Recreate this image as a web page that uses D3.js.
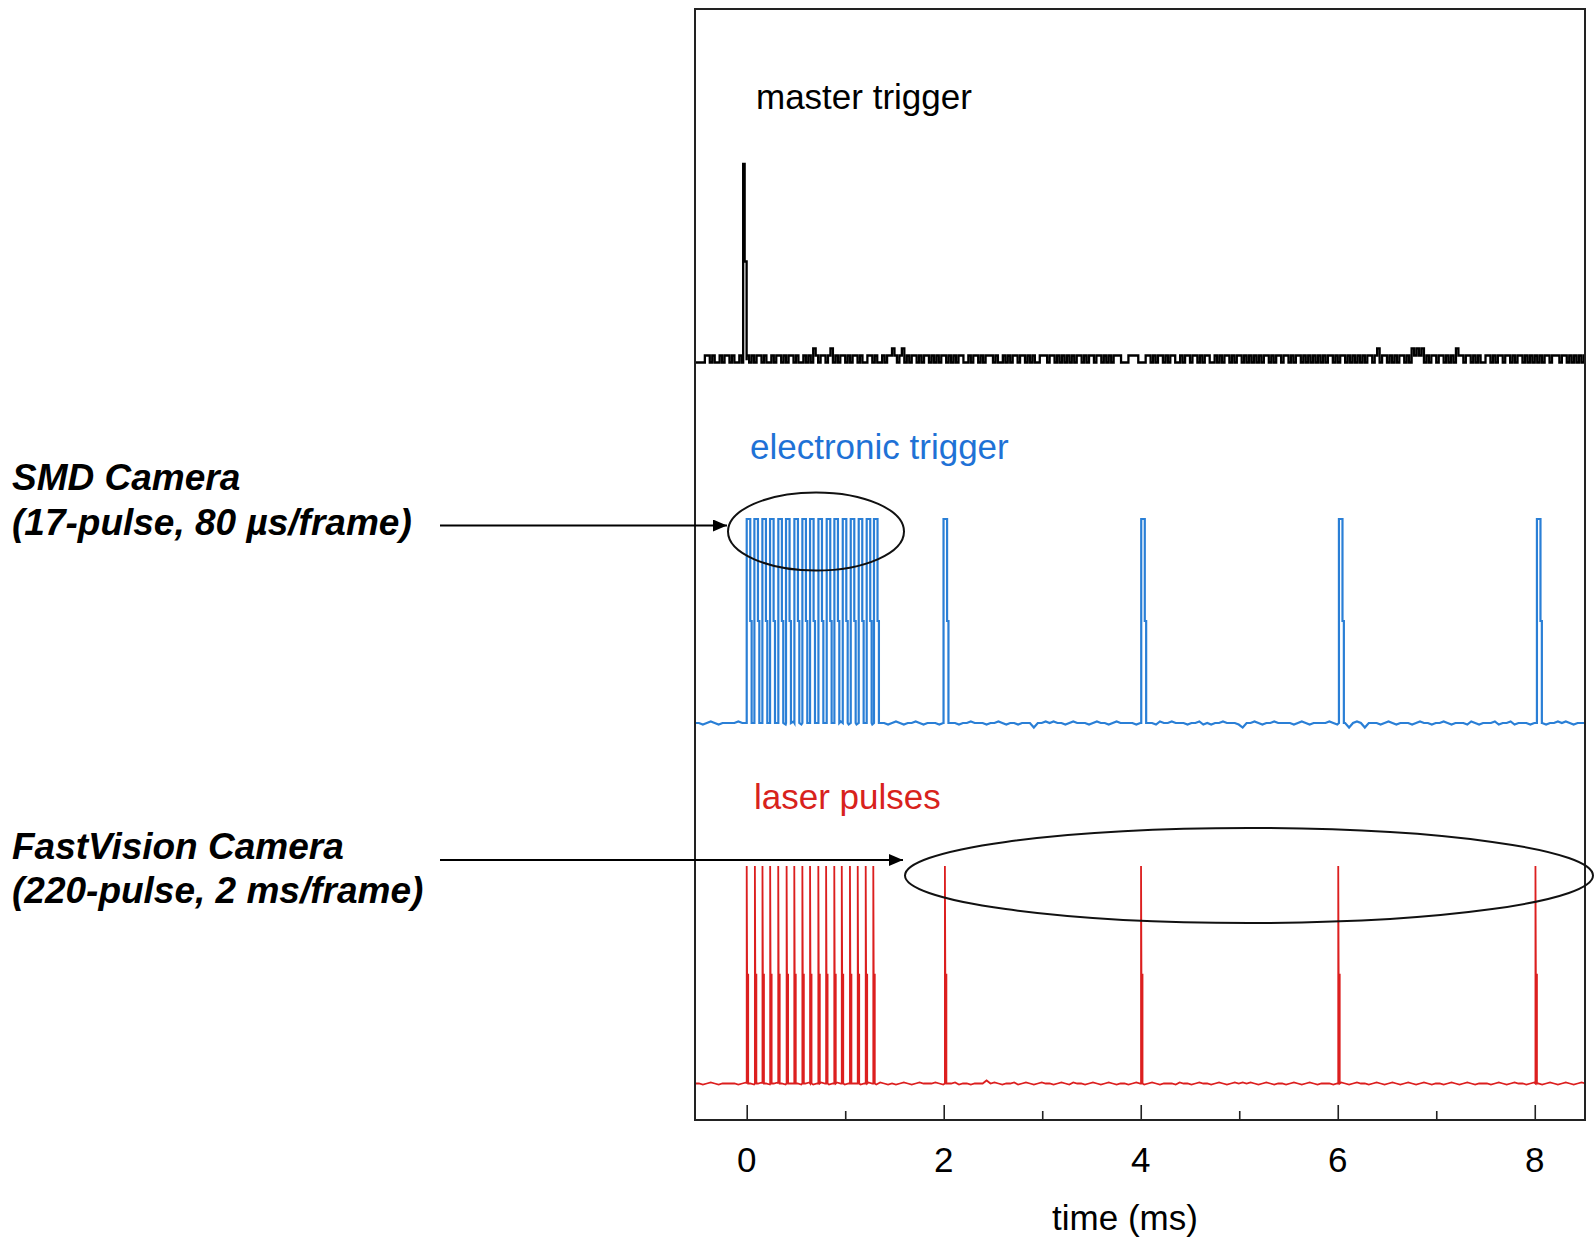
<!DOCTYPE html>
<html><head><meta charset="utf-8">
<script src="https://cdn.jsdelivr.net/npm/d3@7"></script>
<style>html,body{margin:0;padding:0;background:#fff;} svg{display:block;}</style>
</head><body>
<svg id="chart" width="1595" height="1242"></svg>
<script>
// ================= DATA =================
const xDomain = [-0.525, 8.51];           // ms
const xTicksMajor = [0, 2, 4, 6, 8];
const xTicksMinor = [1, 3, 5, 7];
const xLabel = "time (ms)";
const traceNames = ["master trigger", "electronic trigger", "laser pulses"];

// pulse start times (ms)
const masterPulses = [-0.036];
const elecPulses = [0.0, 0.078, 0.159, 0.237, 0.321, 0.399, 0.484, 0.565, 0.643, 0.728, 0.812,
                    0.890, 0.975, 1.056, 1.137, 1.218, 1.292, 1.998, 4.005, 6.012, 8.022];
const laserPulses = [0.0, 0.083, 0.16, 0.238, 0.32, 0.405, 0.483, 0.565, 0.643, 0.727, 0.806,
                     0.889, 0.965, 1.048, 1.127, 1.208, 1.285, 2.012, 4.003, 6.005, 8.007];

// pulse shapes: [ms after start, level as fraction of full pulse height]
const masterShape = [[0,0],[0,1],[0.015,1],[0.015,0.5],[0.035,0.5],[0.035,0]];
const elecShape   = [[0,0],[0,1],[0.036,1],[0.036,0.5],[0.05,0.5],[0.05,0]];
const laserShape  = [[0,0],[0,1],[0.004,0.5],[0.015,0.5],[0.015,0]];

// baseline noise, digitized levels
const masterNoise =
  "0000110100" + "1011010010" + "1101011010" + "0101101011" + "0100101021" +
  "0110120101" + "1010110100" + "1101001011" + "2101201011" + "0101101010" +
  "1101010110" + "0101101011" + "1010010101" + "1011010100" + "1110110101" +
  "0101011010" + "1101101010" + "1110001111" + "0001101011" + "0101100101" +
  "1011010110" + "0101011010" + "1101010101" + "0110101101" + "1010110101" +
  "0101010110" + "1011010101" + "0101101201" + "1010101101" + "0212120101" +
  "1011010102" + "1101101010" + "0110101101" + "1010110101" + "0101011011" +
  "1011010101" + "0101101010";
const elecNoise =
  "3323432333" + "3433234323" + "3332343233" + "4323332432" + "3233423332" +
  "3432334323" + "3323433233" + "4333233432" + "3323330334" + "3433234333" +
  "2343323433" + "3323433243" + "3433323342" + "3233433320" + "3343233433" +
  "3323432333" + "3432330343" + "0333234323" + "3323433233" + "4323332432" +
  "3334233423" + "3323432334" + "3432333233";
const laserNoise =
  "3323432333" + "3234323432" + "3432333234" + "2343234323" + "3323432432" +
  "3234323433" + "3432334233" + "2333634323" + "3423432343" + "3234324332" +
  "3432343233" + "2343234323" + "3324332343" + "3234323434" + "3432343233" +
  "2343234323" + "3323432343" + "3234323432" + "3432343233" + "2343234323" +
  "3323432343" + "3234323432" + "3432343233";
const noiseStart = -0.525;
const noiseStep  = [0.025, 0.04, 0.04];   // ms per noise sample
const noiseCenter = [0.5, 3, 3];          // digit value of the mean baseline
const noiseUnit  = [0.036, 0.0074, 0.0046]; // fraction of pulse height per digit

// ================= LAYOUT =================
const svg = d3.select("#chart");
const frame = {x0: 695, x1: 1585, y0: 9, y1: 1120};
const bands = [ {base: 359, top: 164}, {base: 723, top: 519}, {base: 1083.5, top: 866} ];
const colors = ["#000000", "#2a7fd6", "#dc1f1f"];
const widths = [2.3, 2.2, 1.8];
const labelColors = ["#000000", "#1f72d6", "#d8221c"];
const labelPos = [{x: 756, y: 109}, {x: 750, y: 459}, {x: 754, y: 809}];
const FONT = "'Liberation Sans', Arial, Helvetica, sans-serif";

const x = d3.scaleLinear().domain(xDomain).range([frame.x0, frame.x1]);

svg.append("defs").append("clipPath").attr("id", "clip")
  .append("rect").attr("x", frame.x0).attr("y", frame.y0)
  .attr("width", frame.x1 - frame.x0).attr("height", frame.y1 - frame.y0);

const traces = [
  {pulses: masterPulses, shape: masterShape, noise: masterNoise, stepped: true},
  {pulses: elecPulses,   shape: elecShape,   noise: elecNoise,   stepped: false},
  {pulses: laserPulses,  shape: laserShape,  noise: laserNoise,  stepped: false}
];

function buildPoints(tr, k) {
  const dur = tr.shape[tr.shape.length - 1][0];
  const inPulse = t => tr.pulses.some(p => t >= p - 1e-6 && t <= p + dur + 1e-6);
  const pts = [];
  for (let i = 0; i < tr.noise.length; i++) {
    const t = noiseStart + i * noiseStep[k];
    if (t > xDomain[1] + 0.05) break;
    const v = (+tr.noise[i] - noiseCenter[k]) * noiseUnit[k];
    if (!inPulse(t)) pts.push([t, v]);
  }
  tr.pulses.forEach(p => tr.shape.forEach(([dt, lv]) => pts.push([p + dt, lv])));
  pts.sort((a, b) => a[0] - b[0]);
  return pts;
}

const plot = svg.append("g").attr("clip-path", "url(#clip)");
traces.forEach((tr, k) => {
  const y = d3.scaleLinear().domain([0, 1]).range([bands[k].base, bands[k].top]);
  const line = d3.line().x(d => x(d[0])).y(d => y(d[1]))
    .curve(tr.stepped ? d3.curveStepAfter : d3.curveLinear);
  plot.append("path").datum(buildPoints(tr, k))
    .attr("d", line).attr("fill", "none")
    .attr("stroke", colors[k]).attr("stroke-width", widths[k])
    .attr("stroke-linejoin", "miter");
  svg.append("text").attr("x", labelPos[k].x).attr("y", labelPos[k].y)
    .attr("font-family", FONT).attr("font-size", 35).attr("fill", labelColors[k])
    .text(traceNames[k]);
});

// frame
svg.append("rect").attr("x", frame.x0).attr("y", frame.y0)
  .attr("width", frame.x1 - frame.x0).attr("height", frame.y1 - frame.y0)
  .attr("fill", "none").attr("stroke", "#222").attr("stroke-width", 2);

// bottom axis, ticks pointing inward
const axis = svg.append("g").attr("transform", `translate(0,${frame.y1})`);
axis.call(d3.axisBottom(x).tickValues(xTicksMajor).tickSize(-15).tickFormat(""))
  .call(g => g.select(".domain").remove())
  .call(g => g.selectAll("line").attr("stroke", "#222").attr("stroke-width", 1.6));
const axisMinor = svg.append("g").attr("transform", `translate(0,${frame.y1})`);
axisMinor.call(d3.axisBottom(x).tickValues(xTicksMinor).tickSize(-9).tickFormat(""))
  .call(g => g.select(".domain").remove())
  .call(g => g.selectAll("line").attr("stroke", "#222").attr("stroke-width", 1.6));
svg.selectAll(".tickLabel").data(xTicksMajor).enter().append("text")
  .attr("x", d => x(d)).attr("y", 1172).attr("text-anchor", "middle")
  .attr("font-family", FONT).attr("font-size", 35).attr("fill", "#000")
  .text(d => d);
svg.append("text").attr("x", 1125).attr("y", 1230).attr("text-anchor", "middle")
  .attr("font-family", FONT).attr("font-size", 35).attr("fill", "#000").text(xLabel);

// annotations
const ann = [
  {lines: ["SMD Camera", "(17-pulse, 80 µs/frame)"], y: [490, 535], arrow: [440, 525.5, 727, 525.5],
   ell: {cx: 816, cy: 531.5, rx: 88, ry: 39}},
  {lines: ["FastVision Camera", "(220-pulse, 2 ms/frame)"], y: [859, 903], arrow: [440, 860, 903, 860],
   ell: {cx: 1249, cy: 875.5, rx: 344, ry: 47.5}}
];
svg.select("defs").append("marker").attr("id", "ah")
  .attr("viewBox", "0 0 14 12").attr("markerWidth", 14).attr("markerHeight", 12)
  .attr("markerUnits", "userSpaceOnUse").attr("refX", 14).attr("refY", 6).attr("orient", "auto")
  .append("path").attr("d", "M0,0 L14,6 L0,12 Z").attr("fill", "#000");
ann.forEach(a => {
  a.lines.forEach((t, i) => svg.append("text").attr("x", 12).attr("y", a.y[i])
    .attr("font-family", FONT).attr("font-size", 37).attr("font-weight", "bold")
    .attr("font-style", "italic").attr("fill", "#000").text(t));
  svg.append("line").attr("x1", a.arrow[0]).attr("y1", a.arrow[1])
    .attr("x2", a.arrow[2]).attr("y2", a.arrow[3])
    .attr("stroke", "#000").attr("stroke-width", 2).attr("marker-end", "url(#ah)");
  svg.append("ellipse").attr("cx", a.ell.cx).attr("cy", a.ell.cy)
    .attr("rx", a.ell.rx).attr("ry", a.ell.ry)
    .attr("fill", "none").attr("stroke", "#111").attr("stroke-width", 2);
});
</script>
</body></html>
